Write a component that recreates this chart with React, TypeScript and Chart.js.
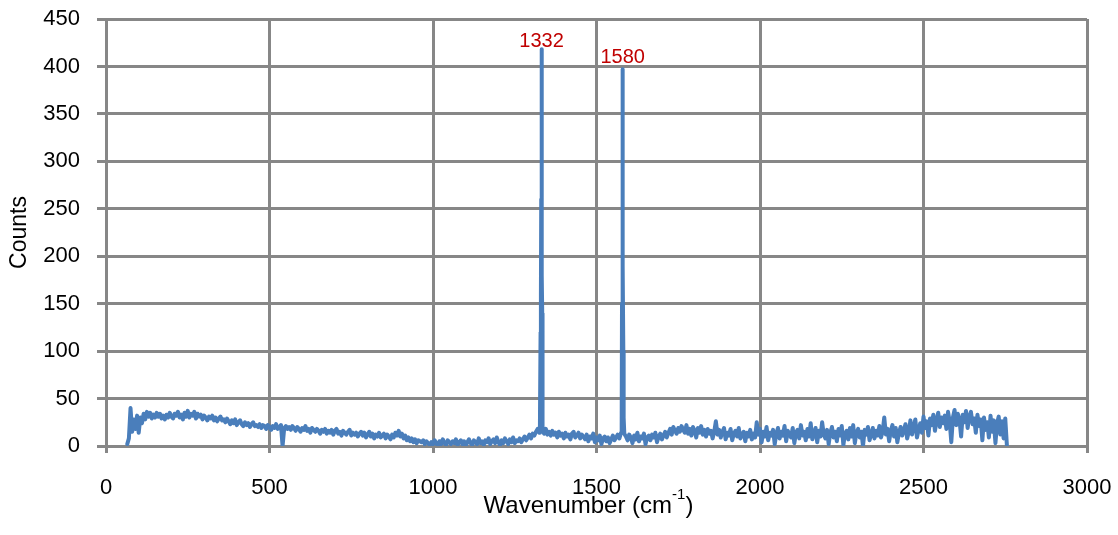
import React, { useEffect, useRef } from "react";
import { Chart, registerables } from "chart.js";

Chart.register(...registerables);

// Spectrum sampled every X_STEP cm-1 starting at X_START (null = replaced by peak detail)
const X_START = 65;
const X_STEP = 5;
const baselineCounts: (number | null)[] = [
  2, 8, 40, 15, 28, 18, 32, 14, 30, 24, 34, 28, 36, 31, 35, 29, 33, 30, 35, 31,
  34, 29, 32, 28, 33, 30, 35, 31, 29, 34, 32, 36, 30, 33, 28, 35, 31, 37, 30, 34,
  32, 36, 29, 34, 31, 33, 28, 32, 30, 27, 31, 29, 32, 27, 30, 26, 29, 31, 27, 28,
  25, 29, 26, 23, 27, 24, 28, 22, 25, 27, 23, 21, 25, 22, 24, 20, 23, 25, 21, 22,
  20, 23, 19, 22, 21, 18, 22, 20, 17, 21, 19, 23, 18, 20, 22, 0, 19, 21, 18, 20,
  17, 21, 19, 16, 20, 18, 15, 19, 17, 21, 16, 18, 14, 19, 17, 15, 18, 16, 13, 17,
  15, 18, 13, 16, 14, 17, 12, 16, 18, 13, 15, 11, 16, 14, 12, 15, 17, 11, 14, 12,
  14, 10, 13, 15, 11, 14, 9, 12, 15, 10, 13, 8, 12, 10, 14, 9, 11, 13, 8, 12,
  10, 7, 12, 9, 14, 11, 16, 10, 13, 8, 11, 6, 9, 5, 8, 4, 7, 3, 6, 5,
  4, 6, 2, 5, 3, 1, 4, 2, 6, 3, 0, 5, 2, 7, 3, 1, 6, 4, 2, 5,
  3, 7, 1, 4, 6, 2, 5, 0, 4, 7, 3, 1, 6, 4, 2, 8, 3, 5, 1, 6,
  4, 8, 2, 5, 7, 3, 9, 4, 1, 6, 3, 8, 5, 2, 7, 4, 9, 3, 6, 5,
  8, 4, 7, 10, 6, 9, 12, 8, 13, 11, 15, 18, 14, null, 16, 13, 18, 12, 15, 11,
  16, 12, 14, 9, 15, 11, 13, 8, 14, 10, 12, 7, 13, 15, 9, 11, 14, 8, 12, 10,
  7, 12, 5, 10, 8, 13, 4, 9, 6, 11, 2, 8, 10, 5, 9, 3, 7, 11, 6, 9,
  12, 8, 14, null, 13, 10, 6, 12, 9, 3, 11, 7, 14, 5, 10, 8, 13, 2, 9, 11,
  6, 12, 9, 14, 4, 10, 13, 7, 11, 15, 9, 14, 18, 12, 20, 16, 13, 19, 15, 21,
  17, 14, 22, 13, 18, 11, 20, 16, 9, 19, 14, 21, 12, 17, 10, 18, 13, 16, 8, 15,
  26, 12, 17, 9, 15, 19, 7, 14, 11, 18, 6, 13, 16, 10, 19, 8, 12, 15, 5, 14,
  10, 17, 7, 13, 9, 25, 12, 18, 4, 15, 10, 20, 6, 14, 11, 17, 2, 13, 19, 8,
  15, 11, 21, 5, 16, 12, 9, 19, 3, 14, 17, 8, 22, 11, 15, 6, 18, 10, 24, 7,
  13, 19, 4, 16, 10, 25, 12, 8, 17, 2, 14, 20, 9, 15, 5, 18, 11, 21, 1, 13,
  16, 7, 19, 10, 22, 3, 14, 18, 9, 15, 0, 17, 12, 20, 6, 13, 19, 8, 16, 11,
  21, 9, 15, 30, 12, 18, 5, 16, 22, 10, 19, 4, 14, 20, 11, 17, 23, 8, 15, 27,
  12, 20, 28, 9, 17, 24, 14, 31, 19, 26, 11, 29, 22, 33, 16, 27, 35, 20, 30, 24,
  32, 18, 36, 26, 4, 30, 38, 22, 34, 28, 10, 33, 25, 37, 19, 31, 36, 23, 29, 14,
  33, 21, 28, 6, 30, 17, 25, 9, 32, 15, 27, 3, 24, 31, 12, 26, 8, 29, 1,
];

// Sharp Raman peaks (fine detail)
const peak1X = [1327, 1329, 1330, 1331, 1332, 1333, 1334];
const peak1Y = [22, 120, 160, 260, 418, 180, 140];
const peak2X = [1577, 1578, 1579, 1580, 1581, 1582, 1583];
const peak2Y = [20, 150, 260, 397, 190, 100, 30];

// Peak annotations
const annotationText = ["1332", "1580"];
const annotationX = [1332, 1580];
const annotationY = [421, 404];

const xTicks = [0, 500, 1000, 1500, 2000, 2500, 3000];

const GRID = "#878787";
const LINE = "#4A7EBB";
const FONT = "'Liberation Sans', Arial, sans-serif";

function buildPoints() {
  const pts: { x: number; y: number }[] = [];
  baselineCounts.forEach((y, i) => {
    if (y !== null) pts.push({ x: X_START + i * X_STEP, y });
  });
  peak1X.forEach((x, i) => pts.push({ x, y: peak1Y[i] }));
  peak2X.forEach((x, i) => pts.push({ x, y: peak2Y[i] }));
  pts.sort((a, b) => a.x - b.x);
  return pts;
}

const annotationPlugin = {
  id: "peakLabels",
  afterDatasetsDraw(chart: any) {
    const { ctx, scales } = chart;
    ctx.save();
    ctx.fillStyle = "#C00000";
    ctx.font = `20px ${FONT}`;
    ctx.textAlign = "center";
    ctx.textBaseline = "alphabetic";
    annotationText.forEach((t, i) => {
      const px = scales.x.getPixelForValue(annotationX[i]);
      const py = scales.y.getPixelForValue(annotationY[i]);
      ctx.fillText(t, px, py);
    });
    ctx.restore();
  },
};

const xTitlePlugin = {
  id: "xTitle",
  afterDraw(chart: any) {
    const { ctx, chartArea } = chart;
    const main1 = "Wavenumber (cm";
    const sup = "-1";
    const main2 = ")";
    ctx.save();
    ctx.fillStyle = "#000";
    ctx.textBaseline = "alphabetic";
    ctx.textAlign = "left";
    const big = `24px ${FONT}`;
    const small = `15px ${FONT}`;
    ctx.font = big;
    const w1 = ctx.measureText(main1).width;
    const w3 = ctx.measureText(main2).width;
    ctx.font = small;
    const w2 = ctx.measureText(sup).width;
    const total = w1 + w2 + w3;
    const cx = (chartArea.left + chartArea.right) / 2 - 8;
    let x = cx - total / 2;
    const base = chartArea.bottom + 67;
    ctx.font = big;
    ctx.fillText(main1, x, base);
    x += w1;
    ctx.font = small;
    ctx.fillText(sup, x, base - 14);
    x += w2;
    ctx.font = big;
    ctx.fillText(main2, x, base);
    ctx.restore();
  },
};

export default function App() {
  const ref = useRef<HTMLCanvasElement | null>(null);

  useEffect(() => {
    if (!ref.current) return;
    const chart = new Chart(ref.current, {
      type: "line",
      data: {
        datasets: [
          {
            data: buildPoints(),
            borderColor: LINE,
            borderWidth: 4,
            borderJoinStyle: "round",
            borderCapStyle: "round",
            pointRadius: 0,
            tension: 0,
            fill: false,
          },
        ],
      },
      options: {
        animation: false,
        responsive: false,
        layout: { padding: { top: 19, right: 31, bottom: 0, left: 0 } },
        plugins: {
          legend: { display: false },
          tooltip: { enabled: false },
        },
        scales: {
          x: {
            type: "linear",
            min: 0,
            max: 3000,
            afterBuildTicks: (s: any) => {
              s.ticks = xTicks.map((v) => ({ value: v }));
            },
            afterFit: (s: any) => {
              s.height = 89;
              s.paddingLeft = 0;
              s.paddingRight = 0;
            },
            ticks: {
              autoSkip: false,
              maxRotation: 0,
              padding: 22,
              color: "#000",
              font: { family: FONT, size: 22 },
              callback: (v: any) => String(v),
            },
            grid: {
              color: GRID,
              lineWidth: 3,
              tickLength: 7,
              tickColor: GRID,
            },
            border: { color: GRID, width: 3 },
          },
          y: {
            type: "linear",
            min: 0,
            max: 450,
            ticks: {
              stepSize: 50,
              padding: 17,
              color: "#000",
              font: { family: FONT, size: 22 },
              callback: (v: any) => String(v),
            },
            afterFit: (s: any) => {
              s.width = 106;
              s.paddingTop = 0;
              s.paddingBottom = 0;
            },
            grid: {
              color: GRID,
              lineWidth: 3,
              tickLength: 9,
              tickColor: GRID,
            },
            border: { color: GRID, width: 3 },
            title: {
              display: true,
              text: "Counts",
              color: "#000",
              padding: { top: 6, bottom: 0 },
              font: { family: FONT, size: 23 },
            },
          },
        },
      },
      plugins: [annotationPlugin, xTitlePlugin],
    });
    return () => chart.destroy();
  }, []);

  return (
    <div style={{ position: "absolute", left: 0, top: 0, width: 1118, height: 535, background: "#fff" }}>
      <canvas ref={ref} width={1118} height={535} style={{ width: 1118, height: 535 }} />
    </div>
  );
}
